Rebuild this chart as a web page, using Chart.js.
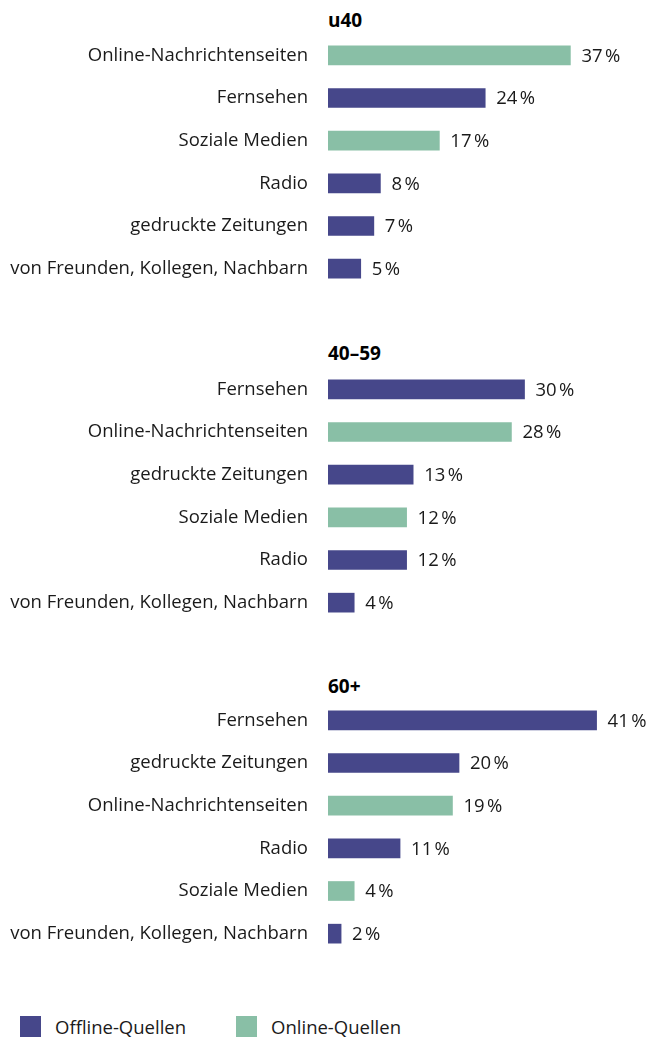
<!DOCTYPE html>
<html>
<head>
<meta charset="utf-8">
<script src="https://cdn.jsdelivr.net/npm/chart.js@4.4.0/dist/chart.umd.min.js"></script>
<style>
  body { margin: 0; background: #fff; font-family: "Open Sans", sans-serif; }
  #wrap { position: relative; width: 649px; height: 1038px; }
  .title { position: absolute; left: 328px; font-weight: bold; font-size: 19px; line-height: 20px; color: #000; }
  .box { position: absolute; left: 0; width: 649px; height: 256px; }
  #legend { position: absolute; left: 20px; top: 1016px; display: flex; font-size: 18.5px; line-height: 21px; color: #1a1a1a; }
  #legend span.sw { display: inline-block; width: 21px; height: 21px; margin-right: 14px; }
  #legend div { display: flex; align-items: center; margin-right: 50px; }
</style>
</head>
<body>
<div id="wrap">
  <div class="title" style="top:10px">u40</div>
  <div class="box" style="top:34px"><canvas id="c1" width="649" height="256"></canvas></div>
  <div class="title" style="top:343px">40–59</div>
  <div class="box" style="top:368px"><canvas id="c2" width="649" height="256"></canvas></div>
  <div class="title" style="top:676px">60+</div>
  <div class="box" style="top:699px"><canvas id="c3" width="649" height="256"></canvas></div>
  <div id="legend"></div>
</div>
<script>
// Quellen nach Altersgruppe, Anteile in Prozent
const u40Labels = ['Online-Nachrichtenseiten', 'Fernsehen', 'Soziale Medien', 'Radio', 'gedruckte Zeitungen', 'von Freunden, Kollegen, Nachbarn'];
const u40Values = [37, 24, 17, 8, 7, 5];

const mid40Labels = ['Fernsehen', 'Online-Nachrichtenseiten', 'gedruckte Zeitungen', 'Soziale Medien', 'Radio', 'von Freunden, Kollegen, Nachbarn'];
const mid40Values = [30, 28, 13, 12, 12, 4];

const over60Labels = ['Fernsehen', 'gedruckte Zeitungen', 'Online-Nachrichtenseiten', 'Radio', 'Soziale Medien', 'von Freunden, Kollegen, Nachbarn'];
const over60Values = [41, 20, 19, 11, 4, 2];

const onlineSources = ['Online-Nachrichtenseiten', 'Soziale Medien'];
const legendLabels = ['Offline-Quellen', 'Online-Quellen'];

const OFFLINE = '#46478A';
const ONLINE = '#89BFA6';
const FONT = '"Open Sans", sans-serif';

// "37 %" rechts neben jedem Balken
const valueLabels = {
  id: 'valueLabels',
  afterDatasetsDraw(chart) {
    const ctx = chart.ctx;
    ctx.save();
    ctx.font = '18.5px ' + FONT;
    ctx.fillStyle = '#1a1a1a';
    ctx.textBaseline = 'middle';
    chart.getDatasetMeta(0).data.forEach((bar, i) => {
      const v = chart.data.datasets[0].data[i];
      ctx.fillText(v + '\u202F%', bar.x + 11, bar.y + 1);
    });
    ctx.restore();
  }
};

function makeChart(id, labels, values) {
  const colors = labels.map(l => onlineSources.includes(l) ? ONLINE : OFFLINE);
  return new Chart(document.getElementById(id).getContext('2d'), {
    type: 'bar',
    data: {
      labels: labels,
      datasets: [{
        data: values,
        backgroundColor: colors,
        barThickness: 19
      }]
    },
    options: {
      indexAxis: 'y',
      responsive: false,
      animation: false,
      devicePixelRatio: 1,
      layout: { padding: 0 },
      plugins: { legend: { display: false }, tooltip: { enabled: false } },
      scales: {
        x: { display: false, min: 0, max: 49 },
        y: {
          grid: { display: false, drawTicks: false },
          border: { display: false },
          ticks: { padding: 20, color: '#1a1a1a', font: { family: FONT, size: 18.5 } },
          afterFit(scale) {
            scale.width = 328;
            scale.paddingTop = 0;
            scale.paddingBottom = 0;
          }
        }
      }
    },
    plugins: [valueLabels]
  });
}

makeChart('c1', u40Labels, u40Values);
makeChart('c2', mid40Labels, mid40Values);
makeChart('c3', over60Labels, over60Values);

const legend = document.getElementById('legend');
legendLabels.forEach((name, i) => {
  const item = document.createElement('div');
  const sw = document.createElement('span');
  sw.className = 'sw';
  sw.style.background = i === 0 ? OFFLINE : ONLINE;
  item.appendChild(sw);
  item.appendChild(document.createTextNode(name));
  legend.appendChild(item);
});
</script>
</body>
</html>
